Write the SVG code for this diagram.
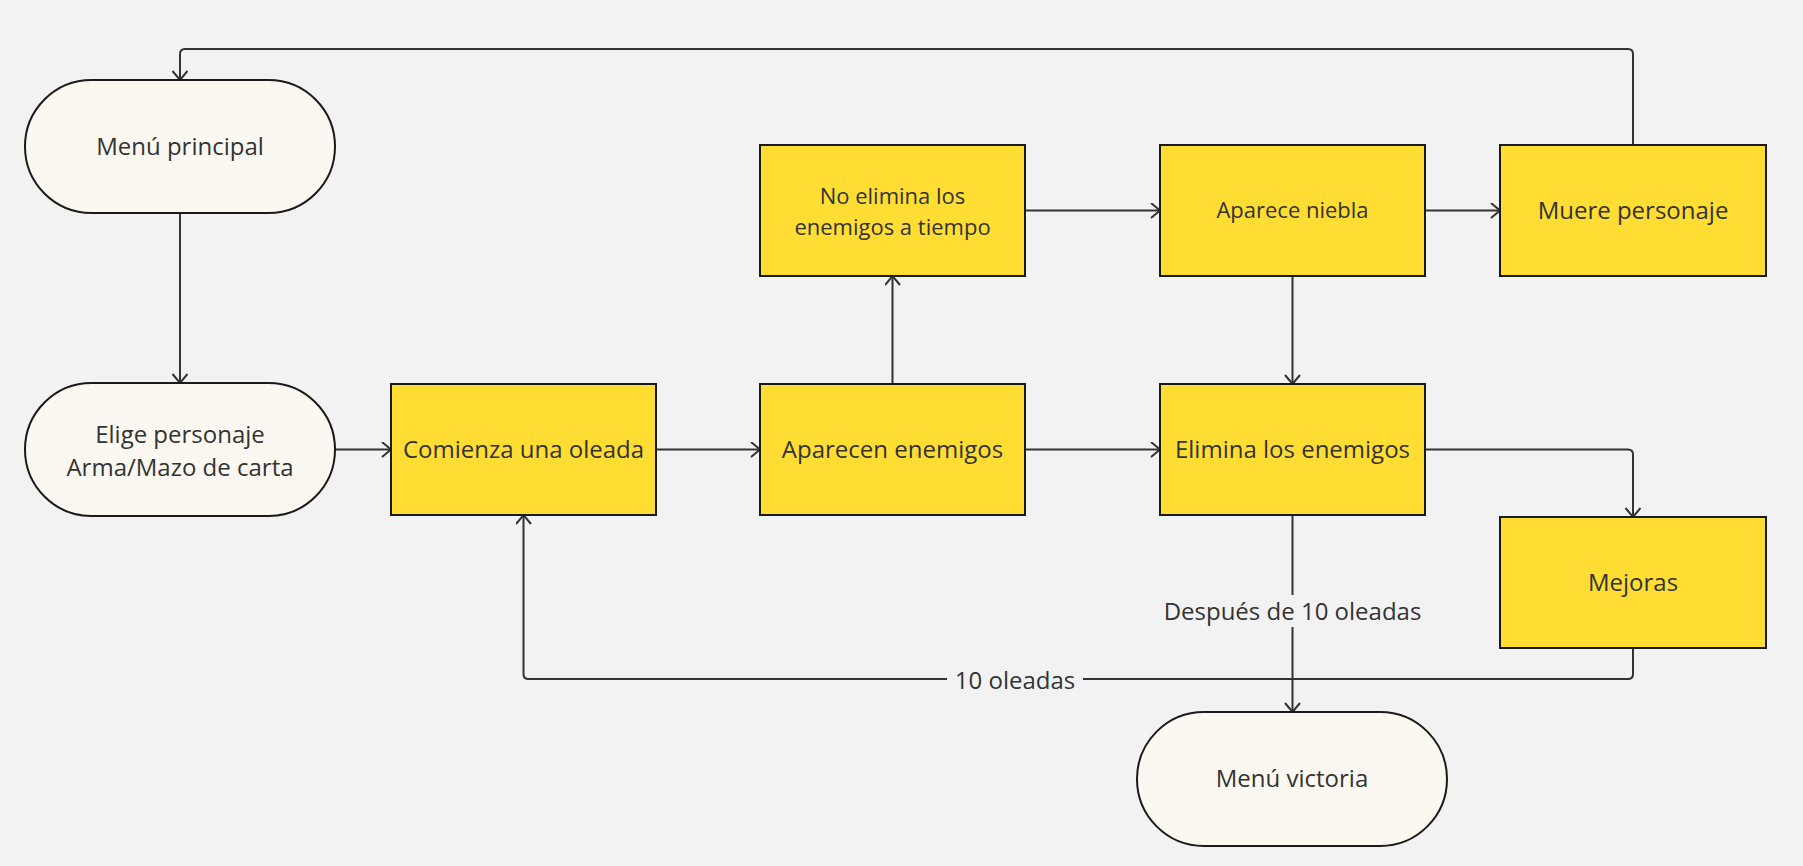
<svg xmlns="http://www.w3.org/2000/svg" width="1803" height="866" viewBox="0 0 1803 866">
<defs>
<style>
.term{fill:#fbf8f1;stroke:#1a1a1a;stroke-width:2}
.proc{fill:#ffdd33;stroke:#1a1a1a;stroke-width:2}
.t{font-family:"Open Sans","Liberation Sans",sans-serif;font-size:24px;fill:#333333;text-anchor:middle}
.ts{font-size:22px}
.c{fill:none;stroke:#333333;stroke-width:2;marker-end:url(#arr)}
.cn{fill:none;stroke:#333333;stroke-width:2}
.lbg{fill:#f2f2f2}
</style>
<marker id="arr" markerUnits="userSpaceOnUse" markerWidth="12" markerHeight="17" refX="10" refY="8" orient="auto">
<path d="M1,0.5 L10,8 L1,15.5" fill="none" stroke="#333333" stroke-width="2"/>
</marker>
</defs>
<rect x="0" y="0" width="1803" height="866" fill="#f2f2f2"/>
<g id="connectors">
<path class="c" d="M180 213 V383"/>
<path class="c" d="M335 449.5 H391"/>
<path class="c" d="M656 449.5 H760"/>
<path class="c" d="M892.5 384 V276"/>
<path class="c" d="M1025 449.5 H1160"/>
<path class="c" d="M1025 210.5 H1160"/>
<path class="c" d="M1425 210.5 H1500"/>
<path class="c" d="M1292.5 276 V384"/>
<path class="c" d="M1425 449.5 H1628 Q1633 449.5 1633 454.5 V517"/>
<path class="c" d="M1633 145 V54 Q1633 49 1628 49 H185 Q180 49 180 54 V80"/>
<path class="c" d="M1633 648 V674 Q1633 679 1628 679 H528.5 Q523.5 679 523.5 674 V515"/>
<path class="c" d="M1292.5 515 V712"/>
<rect class="lbg" x="947" y="664" width="136" height="30"/>
<text class="t" x="1015" y="689">10 oleadas</text>
<rect class="lbg" x="1160" y="595" width="265" height="32"/>
<text class="t" x="1292.5" y="620">Después de 10 oleadas</text>
</g>
<g id="menu-principal">
<rect class="term" x="25" y="80" width="310" height="133" rx="66.5" ry="66.5"/>
<text class="t" x="180" y="155">Menú principal</text>
</g>
<g id="elige-personaje">
<rect class="term" x="25" y="383" width="310" height="133" rx="66.5" ry="66.5"/>
<text class="t" x="180" y="443">Elige personaje</text>
<text class="t" x="180" y="476">Arma/Mazo de carta</text>
</g>
<g id="comienza-oleada">
<rect class="proc" x="391" y="384" width="265" height="131"/>
<text class="t" x="523.5" y="458">Comienza una oleada</text>
</g>
<g id="aparecen-enemigos">
<rect class="proc" x="760" y="384" width="265" height="131"/>
<text class="t" x="892.5" y="458">Aparecen enemigos</text>
</g>
<g id="no-elimina">
<rect class="proc" x="760" y="145" width="265" height="131"/>
<text class="t ts" x="892.5" y="204">No elimina los</text>
<text class="t ts" x="892.5" y="235">enemigos a tiempo</text>
</g>
<g id="aparece-niebla">
<rect class="proc" x="1160" y="145" width="265" height="131"/>
<text class="t ts" x="1292.5" y="218">Aparece niebla</text>
</g>
<g id="muere-personaje">
<rect class="proc" x="1500" y="145" width="266" height="131"/>
<text class="t" x="1633" y="219">Muere personaje</text>
</g>
<g id="elimina-enemigos">
<rect class="proc" x="1160" y="384" width="265" height="131"/>
<text class="t" x="1292.5" y="458">Elimina los enemigos</text>
</g>
<g id="mejoras">
<rect class="proc" x="1500" y="517" width="266" height="131"/>
<text class="t" x="1633" y="591">Mejoras</text>
</g>
<g id="menu-victoria">
<rect class="term" x="1137" y="712" width="310" height="134" rx="67" ry="67"/>
<text class="t" x="1292" y="787">Menú victoria</text>
</g>
</svg>
